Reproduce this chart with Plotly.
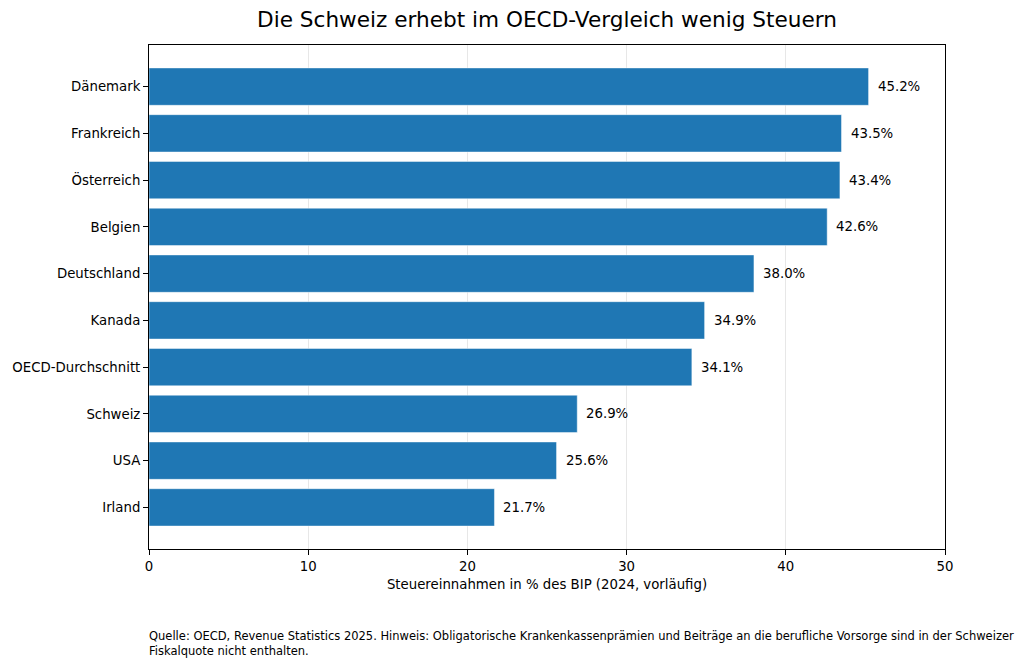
import plotly.graph_objects as go

# Daten (Steuerquote in % des BIP, 2024 vorläufig)
laender = ["Irland", "USA", "Schweiz", "OECD-Durchschnitt", "Kanada",
           "Deutschland", "Belgien", "Österreich", "Frankreich", "Dänemark"]
quote = [21.7, 25.6, 26.9, 34.1, 34.9, 38.0, 42.6, 43.4, 43.5, 45.2]
x_ticks = [0, 10, 20, 30, 40, 50]

titel = "Die Schweiz erhebt im OECD-Vergleich wenig Steuern"
x_titel = "Steuereinnahmen in % des BIP (2024, vorläufig)"
quelle = ("Quelle: OECD, Revenue Statistics 2025. Hinweis: Obligatorische Krankenkassenprämien "
          "und Beiträge an die berufliche Vorsorge sind in der Schweizer<br>Fiskalquote nicht enthalten.")

font = "DejaVu Sans"
fs = 13.3

# die Seite hat 8px Rand oben/links -> Figur entsprechend kleiner
W, H = 1016, 658

fig = go.Figure(go.Bar(
    x=quote, y=list(range(len(laender))), orientation="h", width=0.8,
    marker=dict(color="#1f77b4", line=dict(color="rgba(255,255,255,0.6)", width=0.8)),
    hoverinfo="skip",
))

# Wertebeschriftungen rechts neben den Balken
for i, v in enumerate(quote):
    fig.add_annotation(x=v, y=i, text=f"{v:.1f}%", showarrow=False,
                       xanchor="left", yanchor="middle", xshift=7,
                       font=dict(family=font, size=fs, color="black"))

fig.add_annotation(xref="paper", yref="paper", x=0, y=-0.155, text=quelle,
                   showarrow=False, xanchor="left", yanchor="top", align="left",
                   xshift=-2,
                   font=dict(family=font, size=11.5, color="black"))

fig.update_layout(
    width=W, height=H,
    margin=dict(l=141, r=79, t=37, b=117, autoexpand=False),
    paper_bgcolor="white", plot_bgcolor="white",
    title=dict(text=titel, x=0.5, xanchor="center", y=1 - 11 / H, yanchor="middle",
               xref="paper", yref="container",
               font=dict(family=font, size=21.6, color="black")),
    showlegend=False,
    xaxis=dict(range=[0, 50], tickvals=x_ticks, ticktext=[str(t) for t in x_ticks],
               automargin=False,
               showgrid=True, gridcolor="rgba(176,176,176,0.3)", gridwidth=1,
               showline=True, linecolor="black", linewidth=1, mirror=True,
               ticks="outside", ticklen=5, tickcolor="black", zeroline=False,
               layer="above traces",
               tickfont=dict(family=font, size=fs, color="black"),
               title=dict(text=x_titel, standoff=6,
                          font=dict(family=font, size=fs, color="black"))),
    yaxis=dict(range=[-0.89, 9.89], tickvals=list(range(len(laender))), ticktext=laender,
               automargin=False,
               showgrid=False, showline=True, linecolor="black", linewidth=1, mirror=True,
               ticks="outside", ticklen=5, tickcolor="black", zeroline=False,
               tickfont=dict(family=font, size=fs, color="black")),
)

fig.write_html("out.html")
